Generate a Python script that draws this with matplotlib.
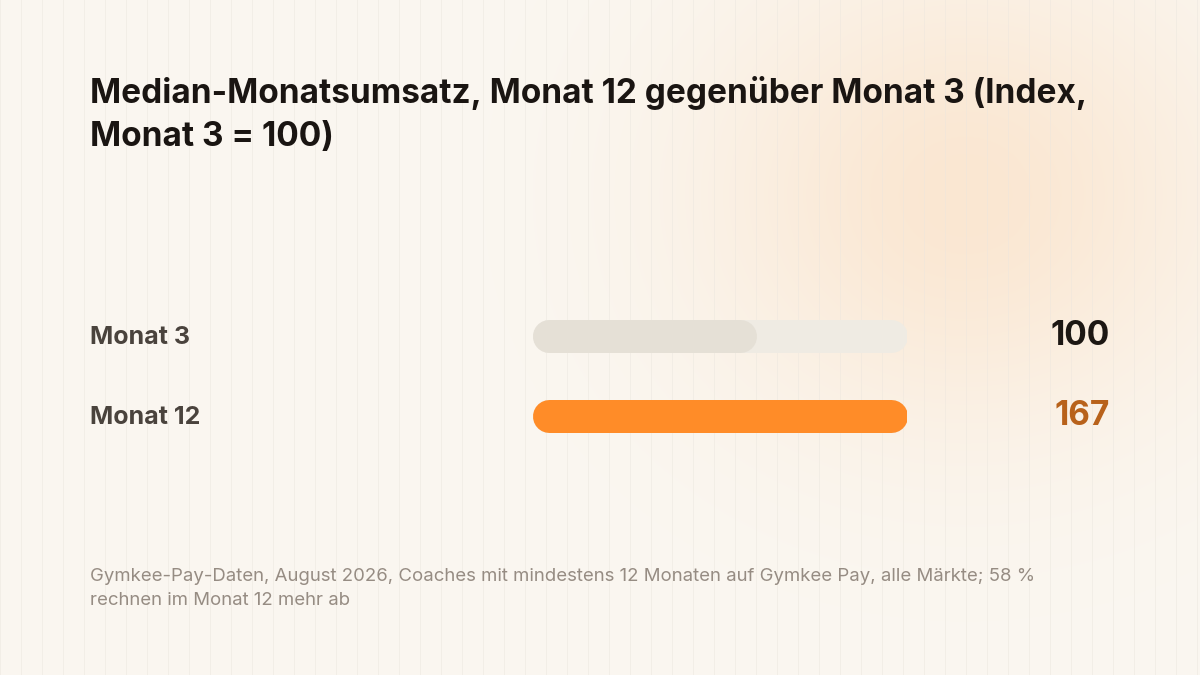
import numpy as np
import matplotlib
matplotlib.use("Agg")
import matplotlib.pyplot as plt
from matplotlib.transforms import blended_transform_factory

# ---- data ----
categories = ["Monat 3", "Monat 12"]
values = [100, 167]
value_labels = ["100", "167"]
title = "Median-Monatsumsatz, Monat 12 gegenüber Monat 3 (Index,\nMonat 3 = 100)"
footnote = ("Gymkee-Pay-Daten, August 2026, Coaches mit mindestens 12 Monaten auf Gymkee Pay, alle Märkte; 58 %\n"
            "rechnen im Monat 12 mehr ab")

W, H = 1200, 675
fig = plt.figure(figsize=(W / 100, H / 100), dpi=100)

# ---- background: cream with soft glow and faint vertical stripes ----
bg = fig.add_axes([0, 0, 1, 1])
bg.set_axis_off()
yy, xx = np.mgrid[0:H, 0:W]
base = np.array([250, 247, 241]) / 255.0
glow = np.array([251, 231, 210]) / 255.0
d2 = ((xx - 965) / 260.0) ** 2 + ((yy - 195) / 230.0) ** 2
w = np.exp(-d2)
img = base[None, None, :] * (1 - w[..., None]) + glow[None, None, :] * w[..., None]
stripe = np.array([234, 229, 221]) / 255.0
for sx in range(0, W, 21):
    img[:, sx, :] = img[:, sx, :] * 0.55 + stripe * 0.45
bg.imshow(img, extent=[0, W, H, 0], aspect="auto", interpolation="bilinear")
bg.set_xlim(0, W)
bg.set_ylim(H, 0)

# ---- bar axes ----
x0, x1 = 532, 907
ytop, ybot = 296, 456
ax = fig.add_axes([x0 / W, (H - ybot) / H, (x1 - x0) / W, (ybot - ytop) / H])
ax.set_axis_off()
xmax = max(values)
ax.set_xlim(0, xmax)
ax.set_ylim(1.5, -0.5)

bar_px = 33
lw_pt = bar_px * 72 / 100
r = (bar_px / 2) / ((x1 - x0) / xmax)  # half height in data units

ypos = np.arange(len(categories))
fill_colors = ["#E5E0D6", "#FF8C28"]
track_color = "#EFEBE3"
for i, (cat, v) in enumerate(zip(categories, values)):
    ax.plot([r, xmax - r], [ypos[i], ypos[i]], color=track_color, lw=lw_pt,
            solid_capstyle="round", zorder=1)
    ax.plot([r, v - r], [ypos[i], ypos[i]], color=fill_colors[i], lw=lw_pt,
            solid_capstyle="round", zorder=2)

tr = blended_transform_factory(fig.transFigure, ax.transData)
label_font = "Inter"
val_colors = ["#1C1713", "#B8621B"]
for i, cat in enumerate(categories):
    ax.text(90 / W, ypos[i] + 0.02, cat, transform=tr, ha="left", va="center",
            fontsize=18, fontweight="bold", color="#4A433D", family=label_font)
    ax.text(1110 / W, ypos[i], value_labels[i], transform=tr, ha="right", va="center",
            fontsize=24, fontweight="bold", color=val_colors[i], family=label_font)

# ---- title & footnote ----
fig.text(90 / W, 1 - 76 / H, title, ha="left", va="top", fontsize=24,
         fontweight="bold", color="#1A1512", family=label_font, linespacing=1.45)
fig.text(90 / W, 1 - 568 / H, footnote, ha="left", va="top", fontsize=13.4,
         color="#968C83", family=label_font, linespacing=1.55)

fig.savefig("out.png", dpi=100)
